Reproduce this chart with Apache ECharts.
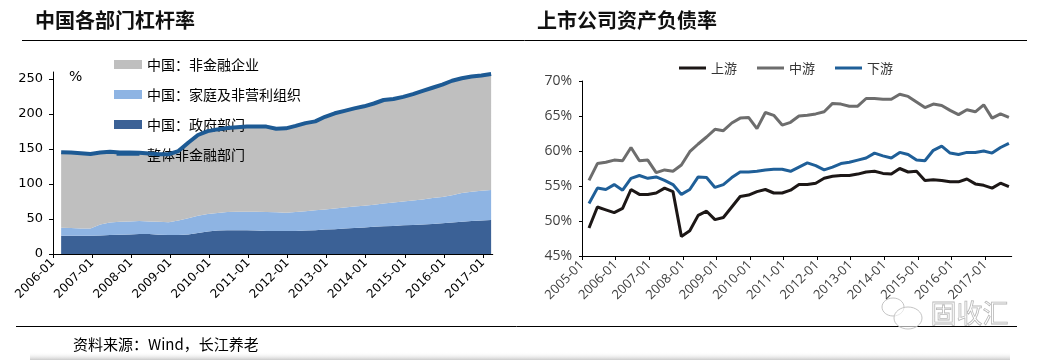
<!DOCTYPE html>
<html><head><meta charset="utf-8">
<script src="https://cdn.jsdelivr.net/npm/echarts@6/dist/echarts.min.js"></script>
<style>html,body{margin:0;padding:0;background:#fff}#c{width:1040px;height:360px}</style>
</head><body><div id="c"></div><script>
// ---------- data: left chart (China sector leverage, % of GDP, quarterly 2006Q1-2017Q1)
function quarterLabels(y0, m0, y1, m1) {
  const out = [];
  for (let y = y0; y <= y1; y++) {
    for (let m = 3; m <= 12; m += 3) {
      if (y === y0 && m < m0) continue;
      if (y === y1 && m > m1) continue;
      out.push(y + '-' + (m < 10 ? '0' + m : '' + m));
    }
  }
  return out;
}
const leftQuarters = quarterLabels(2006, 3, 2017, 3);
const govDebt = [26, 26, 26, 26, 26.5, 27, 27.5, 28, 28.5, 28.5, 27.5, 27, 27, 28, 30, 32,
  33.5, 34, 34, 34, 33.5, 33, 33, 33, 33, 33.5, 34, 35, 35.5, 36.5, 37, 38,
  39, 39.5, 40, 41, 41.5, 42, 43, 44, 45, 46, 47, 48, 48.5];
const householdDebt = [11.5, 11, 10.5, 10.5, 15.5, 18, 18.5, 18.5, 18.5, 18, 18.5, 18.5, 21, 23, 24.5, 25,
  25, 26, 26.5, 26.5, 27, 27, 26.5, 26, 27, 27.5, 28.5, 28.5, 29.5, 30, 31, 31,
  31.5, 32.5, 33.5, 34, 35, 36, 37, 37.5, 39, 41, 42, 42.5, 43];
const corpDebt = [106.5, 106.5, 106, 105, 101.5, 99.5, 97.5, 97, 96, 95.5, 95, 95.5, 97.5, 106.5, 114, 117,
  118, 118.5, 119, 120, 120, 120.5, 118, 119, 121.5, 124.5, 125.5, 131, 134.5, 136.5, 138.5, 140.5,
  143, 146.5, 146.5, 148, 150.5, 153.5, 156, 159, 162, 162.5, 163, 163, 164];
const totalDebt = [145.5, 145, 144, 143, 145, 146, 145, 145, 144.5, 143.5, 142.5, 142.5, 147, 159, 170, 175.5,
  178, 180, 181, 182, 182, 182, 179, 179.5, 183, 187, 189.5, 196, 201, 204.5, 208, 211,
  215, 220, 221.5, 224.5, 228.5, 233, 237.5, 242, 247.5, 251, 253.5, 255, 257];
const leftTickLabels = ['2006-01','2007-01','2008-01','2009-01','2010-01','2011-01','2012-01','2013-01','2014-01','2015-01','2016-01','2017-01'];
const leftYTicks = [0, 50, 100, 150, 200, 250];

// ---------- data: right chart (listed companies debt-to-asset ratio, %, quarterly 2005Q1-2017Q3)
const rightQuarters = quarterLabels(2005, 3, 2017, 9);
const upstream = [49.0, 52.0, 51.6, 51.2, 51.8, 54.5, 53.8, 53.8, 54.0, 54.7, 54.2, 47.8, 48.6, 50.8, 51.4, 50.2,
  50.5, 52.0, 53.5, 53.7, 54.2, 54.5, 54.0, 54.0, 54.4, 55.2, 55.2, 55.4, 56.1, 56.4, 56.5, 56.5,
  56.7, 57.0, 57.1, 56.8, 56.7, 57.5, 57.0, 57.1, 55.8, 55.9, 55.8, 55.6, 55.6, 56.0, 55.3, 55.1,
  54.7, 55.4, 54.9];
const midstream = [55.8, 58.2, 58.4, 58.7, 58.6, 60.5, 58.6, 58.7, 56.9, 57.3, 57.1, 58.0, 59.9, 61.0, 62.0, 63.1,
  62.9, 64.0, 64.7, 64.8, 63.2, 65.5, 65.1, 63.7, 64.1, 65.0, 65.1, 65.3, 65.6, 66.8, 66.7, 66.4,
  66.4, 67.5, 67.5, 67.4, 67.4, 68.1, 67.8, 67.0, 66.2, 66.7, 66.5, 65.8, 65.2, 65.9, 65.6, 66.6,
  64.7, 65.3, 64.8];
const downstream = [52.5, 54.7, 54.5, 55.2, 54.4, 56.1, 56.5, 56.1, 56.3, 55.8, 55.2, 53.8, 54.5, 56.3, 56.2, 54.8,
  55.2, 56.2, 57.0, 57.0, 57.1, 57.3, 57.4, 57.4, 57.1, 57.7, 58.3, 57.9, 57.3, 57.7, 58.2, 58.4,
  58.7, 59.0, 59.7, 59.3, 59.0, 59.8, 59.5, 58.7, 58.6, 60.1, 60.7, 59.7, 59.5, 59.8, 59.8, 60.0,
  59.7, 60.5, 61.1];
const rightTickLabels = ['2005-01','2006-01','2007-01','2008-01','2009-01','2010-01','2011-01','2012-01','2013-01','2014-01','2015-01','2016-01','2017-01'];

// ---------- helpers
function monthPos(label, baseYear) {
  const p = label.split('-');
  return (+p[0] - baseYear) * 12 + (+p[1] - 1) + 0.5;
}
function tickPos(label, baseYear) {
  const p = label.split('-');
  return (+p[0] - baseYear) * 12 + (+p[1] - 1);
}
// value first, position second (so stacking happens on the value dimension)
function pairs(labels, values, baseYear) {
  return labels.map((l, i) => [values[i], monthPos(l, baseYear)]);
}
const leftTicks = leftTickLabels.map(l => tickPos(l, 2006));
const rightTicks = rightTickLabels.map(l => tickPos(l, 2005));

const C = {
  gov: '#3b6196', hh: '#8eb4e3', corp: '#bfbfbf', total: '#1d5a94',
  up: '#1c1716', mid: '#6d6d6d', down: '#1f5f98'
};
const cjk = '"Noto Sans CJK SC", sans-serif';
const enc = { x: 1, y: 0 };
const lineIcon = 'path://M0,0L0,0M0,4L28,4L28,7L0,7ZM28,11L28,11';

const chart = echarts.init(document.getElementById('c'), null, { renderer: 'canvas' });

chart.setOption({
  animation: false,
  backgroundColor: '#fff',
  grid: [
    { left: 53, top: 72, width: 439.75, height: 182 },
    { left: 582, top: 81, width: 429.7, height: 175 }
  ],
  xAxis: [
    {
      type: 'value', gridIndex: 0, min: 0, max: 135,
      axisLine: { show: true, lineStyle: { color: '#000', width: 1 } },
      axisTick: { show: true, length: 4, customValues: leftTicks, lineStyle: { color: '#000' } },
      axisLabel: {
        customValues: leftTicks, rotate: 45, margin: 7,
        formatter: v => leftTickLabels[leftTicks.indexOf(v)] || '',
        fontSize: 12, fontFamily: '"DejaVu Sans", sans-serif', color: '#000'
      },
      splitLine: { show: false }
    },
    {
      type: 'value', gridIndex: 1, min: 0, max: 153.5,
      axisLine: { show: true, lineStyle: { color: '#000', width: 1 } },
      axisTick: { show: true, length: 4, customValues: rightTicks, lineStyle: { color: '#000' } },
      axisLabel: {
        customValues: rightTicks, rotate: 45, margin: 7,
        formatter: v => rightTickLabels[rightTicks.indexOf(v)] || '',
        fontSize: 13, fontFamily: '"Open Sans", sans-serif', color: '#404040'
      },
      splitLine: { show: false }
    }
  ],
  yAxis: [
    {
      type: 'value', gridIndex: 0, min: 0, max: 260,
      axisLine: { show: true, lineStyle: { color: '#000', width: 1 } },
      axisTick: { show: true, length: 4, customValues: leftYTicks, lineStyle: { color: '#000' } },
      axisLabel: { customValues: leftYTicks, margin: 10, fontSize: 13, fontFamily: '"DejaVu Sans", sans-serif', color: '#000' },
      splitLine: { show: false }
    },
    {
      type: 'value', gridIndex: 1, min: 45, max: 70, interval: 5,
      axisLine: { show: true, lineStyle: { color: '#000', width: 1 } },
      axisTick: { show: true, length: 3, lineStyle: { color: '#000' } },
      axisLabel: { margin: 10, formatter: v => v + '%', fontSize: 14, fontFamily: '"Open Sans", sans-serif', color: '#404040' },
      splitLine: { show: false }
    }
  ],
  legend: [
    {
      orient: 'vertical', left: 114, top: 57, padding: 0, itemWidth: 28, itemHeight: 9, itemGap: 15,
      textStyle: { fontSize: 14, lineHeight: 15, color: '#000', fontFamily: cjk },
      data: [
        { name: '中国：非金融企业', icon: 'rect' },
        { name: '中国：家庭及非营利组织', icon: 'rect' },
        { name: '中国：政府部门', icon: 'rect' },
        { name: '整体非金融部门', icon: lineIcon }
      ]
    },
    {
      orient: 'horizontal', left: 679, top: 61, padding: 0, itemWidth: 27, itemHeight: 3, itemGap: 20,
      textStyle: { fontSize: 13, lineHeight: 14, color: '#333', fontFamily: cjk },
      data: [
        { name: '上游', icon: 'rect' },
        { name: '中游', icon: 'rect' },
        { name: '下游', icon: 'rect' }
      ]
    }
  ],
  series: [
    {
      name: '中国：政府部门', type: 'line', xAxisIndex: 0, yAxisIndex: 0, stack: 'lev', encode: enc,
      data: pairs(leftQuarters, govDebt, 2006), symbol: 'none',
      lineStyle: { width: 0 }, itemStyle: { color: C.gov }, areaStyle: { color: C.gov, opacity: 1 }
    },
    {
      name: '中国：家庭及非营利组织', type: 'line', xAxisIndex: 0, yAxisIndex: 0, stack: 'lev', encode: enc,
      data: pairs(leftQuarters, householdDebt, 2006), symbol: 'none',
      lineStyle: { width: 0 }, itemStyle: { color: C.hh }, areaStyle: { color: C.hh, opacity: 1 }
    },
    {
      name: '中国：非金融企业', type: 'line', xAxisIndex: 0, yAxisIndex: 0, stack: 'lev', encode: enc,
      data: pairs(leftQuarters, corpDebt, 2006), symbol: 'none',
      lineStyle: { width: 0 }, itemStyle: { color: C.corp }, areaStyle: { color: C.corp, opacity: 1 }
    },
    {
      name: '整体非金融部门', type: 'line', xAxisIndex: 0, yAxisIndex: 0, z: 5, encode: enc,
      data: pairs(leftQuarters, totalDebt, 2006), symbol: 'none',
      lineStyle: { width: 4, color: C.total }, itemStyle: { color: C.total }
    },
    {
      name: '上游', type: 'line', xAxisIndex: 1, yAxisIndex: 1, encode: enc,
      data: pairs(rightQuarters, upstream, 2005), symbol: 'none',
      lineStyle: { width: 3, color: C.up }, itemStyle: { color: C.up }
    },
    {
      name: '中游', type: 'line', xAxisIndex: 1, yAxisIndex: 1, encode: enc,
      data: pairs(rightQuarters, midstream, 2005), symbol: 'none',
      lineStyle: { width: 3, color: C.mid }, itemStyle: { color: C.mid }
    },
    {
      name: '下游', type: 'line', xAxisIndex: 1, yAxisIndex: 1, encode: enc,
      data: pairs(rightQuarters, downstream, 2005), symbol: 'none',
      lineStyle: { width: 3, color: C.down }, itemStyle: { color: C.down }
    }
  ],
  graphic: [
    { type: 'text', left: 35, top: 10, style: { text: '中国各部门杠杆率', font: 'bold 20px ' + cjk, fill: '#111' } },
    { type: 'text', left: 537, top: 10, style: { text: '上市公司资产负债率', font: 'bold 20px ' + cjk, fill: '#111' } },
    { type: 'line', shape: { x1: 22, y1: 40.5, x2: 1027, y2: 40.5 }, style: { stroke: '#000', lineWidth: 1 } },
    { type: 'line', shape: { x1: 16, y1: 326.5, x2: 1017, y2: 326.5 }, style: { stroke: '#000', lineWidth: 1 } },
    { type: 'text', left: 69, top: 70, style: { text: '%', font: '14px "DejaVu Sans", sans-serif', fill: '#000' } },
    { type: 'text', left: 73, top: 337, style: { text: '资料来源：Wind，长江养老', font: '15px ' + cjk, fill: '#000' } },
    { type: 'text', left: 930, top: 300, z: 1, style: { text: '固收汇', font: '26px ' + cjk, fill: 'rgba(255,255,255,0)', stroke: '#b8b8b8', lineWidth: 0.8 } },
    { type: 'ellipse', shape: { cx: 893, cy: 307, rx: 11, ry: 9 }, style: { fill: 'rgba(255,255,255,0.6)', stroke: '#c4c4c4', lineWidth: 1 } },
    { type: 'ellipse', shape: { cx: 908, cy: 318, rx: 14, ry: 11 }, style: { fill: 'rgba(255,255,255,0.6)', stroke: '#c4c4c4', lineWidth: 1 } },
    {
      type: 'rect', shape: { x: 30, y: 352, width: 980, height: 8 },
      style: {
        fill: new echarts.graphic.LinearGradient(0, 0, 0, 1, [
          { offset: 0, color: 'rgba(255,255,255,0)' },
          { offset: 1, color: 'rgba(160,160,160,0.55)' }
        ])
      }
    }
  ]
});
</script></body></html>
